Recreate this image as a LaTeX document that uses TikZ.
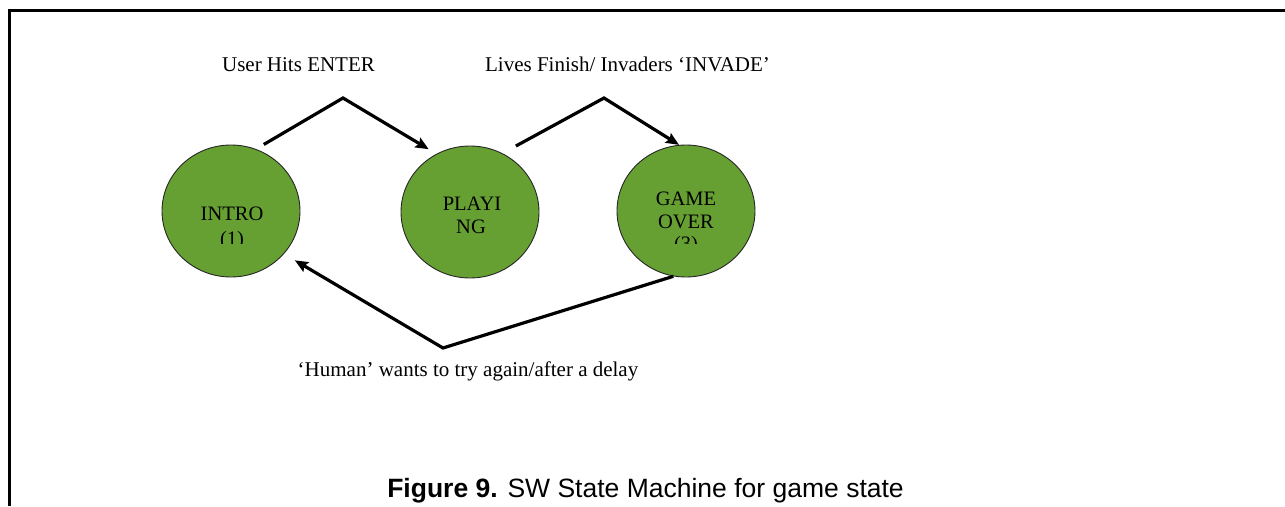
\documentclass[tikz,border=0pt]{standalone}
\usepackage{fontspec}
\setmainfont{Liberation Serif}
\newfontfamily\capfont{Liberation Sans}
\usetikzlibrary{arrows.meta,shapes.geometric}
\definecolor{stategreen}{RGB}{102,160,50}
\tikzset{
  state/.style={ellipse, draw=black!85, line width=0.9pt, fill=stategreen,
    minimum width=138pt, minimum height=132pt, inner sep=0pt},
  statetext/.style={anchor=base, inner sep=0pt, font=\fontsize{20.5}{22}\selectfont},
  edgelabel/.style={anchor=base, inner sep=0pt, font=\fontsize{21}{23}\selectfont},
  conn/.style={line width=3.2pt, line join=miter,
    -{Stealth[length=13pt,width=11pt,inset=2pt]}},
}
\begin{document}
\begin{tikzpicture}[x=1pt,y=-1pt]
\useasboundingbox (0,0) rectangle (1285,506);

% frame
\draw[line width=3pt] (9,506) -- (9,10) -- (1285,10);

% states
\node[state] (intro)    at (231,211) {};
\node[state] (playing)  at (470,212) {};
\node[state] (gameover) at (686,211) {};

% state names, cut off at the bottom as in the text boxes
\begin{scope}
  \clip (0,0) rectangle (1285,243.3);
  \node[statetext] (introA) at (232,220)   {INTRO};
  \node[statetext] (introB) at (232,245)   {(1)};
  \node[statetext] (playA)  at (472,210)   {PLAYI};
  \node[statetext] (playB)  at (471,233.3) {NG};
  \node[statetext] (overA)  at (686,205)   {GAME};
  \node[statetext] (overB)  at (686,228.3) {OVER};
  \node[statetext] (overC)  at (686,250.6) {(3)};
\end{scope}

% bend points of the transitions
\coordinate (peakA) at (343,98);
\coordinate (peakB) at (604,98);
\coordinate (dip)   at (443,348);

% transitions
\draw[conn, shorten <=9pt, shorten >=9pt] (intro.68.5) -- (peakA) -- (playing.120.9);
\draw[conn, shorten <=15.2pt] (playing.61.7) -- (peakB) -- (gameover.96);
\draw[conn, shorten >=12.6pt] (gameover.-101) -- (dip) -- (intro.-39.4);

% transition labels
\node[edgelabel] (lblA) at (298.5,71)   {User Hits ENTER};
\node[edgelabel] (lblB) at (627.5,71)   {Lives Finish/ Invaders ‘INVADE’};
\node[edgelabel] (lblC) at (468,376.7)  {‘Human’ wants to try again/after a delay};

% caption
\node[anchor=base, inner sep=0pt, font=\capfont\fontsize{26.5}{29}\selectfont]
  (caption) at (645.5,497) {\textbf{Figure 9.} SW State Machine for game state};
\end{tikzpicture}
\end{document}
